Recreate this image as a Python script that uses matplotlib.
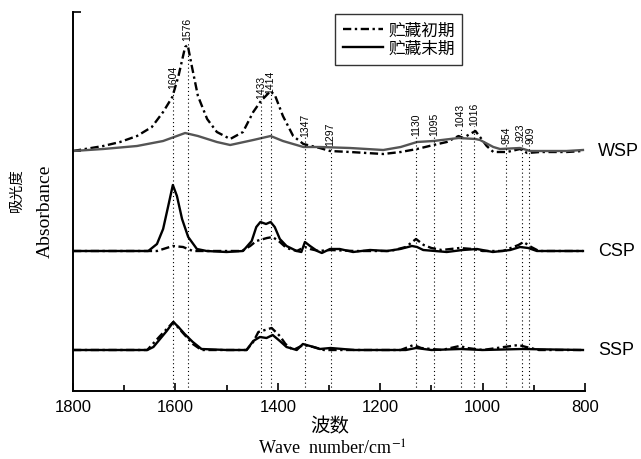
import matplotlib
matplotlib.use("Agg")
import matplotlib.pyplot as plt
from matplotlib.lines import Line2D
from matplotlib.ticker import MultipleLocator

plt.rcParams["mathtext.fontset"] = "stix"

# 谱峰位置 (cm-1) 与标注底部高度
peak_wn = [1604, 1576, 1433, 1414, 1347, 1297, 1130, 1095, 1043, 1016, 954, 923, 909]
peak_top = [3.02, 3.50, 2.92, 2.97, 2.54, 2.45, 2.55, 2.55, 2.64, 2.65, 2.47, 2.50, 2.47]
# 923 与 909 标注左右稍微错开一点
label_shift = {923: 3, 909: -3}

samples = ["WSP", "CSP", "SSP"]
offsets = [2.40, 1.40, 0.41]

# WSP
wsp_init_wn = [1800, 1741, 1708, 1675, 1646, 1624, 1606, 1594, 1581, 1576, 1568, 1556, 1538,
               1519, 1493, 1468, 1448, 1433, 1414, 1405, 1390, 1370, 1350, 1318, 1298, 1259,
               1194, 1160, 1128, 1096, 1070, 1047, 1038, 1028, 1014, 1005, 992, 979, 952,
               927, 913, 888, 836, 804]
wsp_init_ab = [0.00, 0.05, 0.09, 0.15, 0.24, 0.39, 0.54, 0.75, 1.04, 1.06, 0.85, 0.55, 0.32,
               0.19, 0.12, 0.19, 0.39, 0.50, 0.60, 0.55, 0.35, 0.15, 0.07, 0.03, 0.00, -0.01,
               -0.03, -0.01, 0.02, 0.06, 0.09, 0.15, 0.13, 0.16, 0.20, 0.14, 0.05, -0.01, -0.01,
               0.02, -0.02, -0.01, -0.01, 0.00]
wsp_end_wn = [1800, 1741, 1675, 1624, 1581, 1556, 1519, 1493, 1448, 1414, 1390, 1350, 1318,
              1259, 1194, 1160, 1128, 1096, 1047, 1014, 1005, 979, 966, 927, 907, 836, 804]
wsp_end_ab = [0.00, 0.02, 0.05, 0.10, 0.18, 0.15, 0.09, 0.06, 0.11, 0.15, 0.10, 0.04, 0.04,
              0.03, 0.01, 0.04, 0.09, 0.10, 0.13, 0.12, 0.11, 0.04, 0.02, 0.03, 0.00, 0.00, 0.01]

# CSP
csp_init_wn = [1800, 1660, 1636, 1605, 1585, 1566, 1500, 1470, 1454, 1442, 1421, 1410, 1396,
               1383, 1363, 1347, 1337, 1320, 1298, 1250, 1180, 1150, 1130, 1115, 1100, 1080,
               1045, 1020, 1000, 960, 930, 920, 905, 890, 804]
csp_init_ab = [0.00, 0.00, 0.00, 0.05, 0.04, 0.00, 0.00, 0.00, 0.05, 0.10, 0.13, 0.14, 0.09,
               0.03, 0.00, 0.04, 0.02, 0.00, 0.01, 0.00, 0.00, 0.04, 0.12, 0.06, 0.03, 0.01,
               0.03, 0.02, 0.00, 0.00, 0.06, 0.09, 0.04, 0.00, 0.00]
csp_end_wn = [1800, 1700, 1653, 1636, 1624, 1614, 1605, 1597, 1587, 1575, 1558, 1539, 1500,
              1468, 1451, 1442, 1434, 1423, 1414, 1406, 1396, 1383, 1363, 1354, 1347, 1337,
              1323, 1314, 1298, 1279, 1253, 1220, 1187, 1161, 1138, 1128, 1116, 1093, 1070,
              1039, 1011, 980, 946, 927, 911, 894, 862, 804]
csp_end_ab = [0.00, 0.00, 0.00, 0.07, 0.22, 0.45, 0.66, 0.55, 0.32, 0.14, 0.02, 0.00, -0.01,
              0.00, 0.10, 0.24, 0.29, 0.27, 0.29, 0.24, 0.12, 0.05, 0.00, -0.01, 0.09, 0.05,
              0.00, -0.02, 0.02, 0.02, -0.01, 0.01, 0.00, 0.02, 0.05, 0.04, 0.01, 0.00, -0.01,
              0.01, 0.02, -0.01, 0.01, 0.04, 0.03, 0.00, 0.00, 0.00]

# SSP
ssp_init_wn = [1800, 1655, 1630, 1604, 1587, 1566, 1549, 1461, 1448, 1438, 1412, 1396, 1385,
               1370, 1350, 1330, 1310, 1160, 1135, 1120, 1080, 1045, 1030, 1000, 930, 915,
               890, 804]
ssp_init_ab = [0.00, 0.00, 0.14, 0.28, 0.18, 0.06, 0.00, 0.00, 0.08, 0.18, 0.22, 0.14, 0.06,
               0.00, 0.05, 0.03, 0.00, 0.00, 0.05, 0.02, 0.00, 0.04, 0.02, 0.00, 0.05, 0.03,
               0.00, 0.00]
ssp_end_wn = [1800, 1655, 1643, 1630, 1617, 1604, 1594, 1582, 1566, 1549, 1500, 1461, 1448,
              1435, 1422, 1410, 1396, 1383, 1363, 1351, 1337, 1318, 1297, 1250, 1150, 1130,
              1100, 1043, 1000, 923, 804]
ssp_end_ab = [0.00, 0.00, 0.03, 0.11, 0.19, 0.28, 0.23, 0.16, 0.08, 0.01, 0.00, 0.00, 0.09,
              0.13, 0.12, 0.15, 0.09, 0.03, 0.00, 0.06, 0.04, 0.01, 0.02, 0.00, 0.00, 0.02,
              0.00, 0.01, 0.00, 0.01, 0.00]

init_data = [(wsp_init_wn, wsp_init_ab), (csp_init_wn, csp_init_ab), (ssp_init_wn, ssp_init_ab)]
end_data = [(wsp_end_wn, wsp_end_ab), (csp_end_wn, csp_end_ab), (ssp_end_wn, ssp_end_ab)]
end_colors = ["#555555", "black", "black"]

dashdot = (0, (3.5, 1.5, 1, 1.5))
cjk = ["Noto Sans CJK SC", "DejaVu Sans"]
serif = ["Liberation Serif", "Noto Sans CJK SC"]

fig = plt.figure(figsize=(6.41, 4.60), dpi=100)
ax = fig.add_axes([73 / 641, 1 - 392 / 460, 512 / 641, 379 / 460])

for (wn, ab), off in zip(init_data, offsets):
    ax.plot(wn, [a + off for a in ab], color="black", lw=1.7, linestyle=dashdot)
for (wn, ab), off, c in zip(end_data, offsets, end_colors):
    ax.plot(wn, [a + off for a in ab], color=c, lw=1.7, solid_joinstyle="round")

# 虚线与峰位标注
ax.vlines(peak_wn, 0, peak_top, colors="black", lw=0.8, linestyles=[(0, (1, 2.5))])
for w, t in zip(peak_wn, peak_top):
    ax.text(w + label_shift.get(w, 0), t + 0.01, str(w), rotation=90, ha="center",
            va="bottom", fontsize=7.5, family="Liberation Sans")

for s, off in zip(samples, offsets):
    ax.text(775, off, s, ha="left", va="center", fontsize=13,
            family="Liberation Sans", clip_on=False)

ax.set_xlim(1800, 800)
ax.set_ylim(0, 3.79)
ax.xaxis.set_major_locator(MultipleLocator(200))
ax.xaxis.set_minor_locator(MultipleLocator(100))
ax.set_yticks(offsets + [3.79])
ax.set_yticklabels([])
ax.tick_params(axis="x", which="major", direction="in", length=6, width=1.2,
               labelsize=12, pad=6)
ax.tick_params(axis="x", which="minor", direction="in", length=4, width=1.2)
ax.tick_params(axis="y", direction="in", length=6, width=1.2)
for lab in ax.get_xticklabels():
    lab.set_family("Liberation Sans")
ax.spines["top"].set_visible(False)
ax.spines["right"].set_visible(False)
ax.spines["left"].set_linewidth(1.4)
ax.spines["bottom"].set_linewidth(1.4)

handles = [Line2D([], [], color="black", lw=1.7, linestyle=dashdot),
           Line2D([], [], color="black", lw=1.7)]
leg = ax.legend(handles, ["贮藏初期", "贮藏末期"], loc="upper left",
                bbox_to_anchor=((335 - 73) / 512, (392 - 15) / 379),
                prop={"family": cjk, "size": 12}, frameon=True, fancybox=False,
                edgecolor="black", borderaxespad=0, handlelength=2.4,
                handletextpad=0.35, labelspacing=0.1, borderpad=0.45)
leg.get_frame().set_linewidth(1.0)

fig.text(330 / 641, 1 - 427 / 460, "波数", ha="center", va="center",
         fontsize=14, family=cjk)
fig.text(332 / 641, 1 - 449 / 460, "Wave  number/cm$^{-1}$", ha="center", va="center",
         fontsize=13, family=serif)
fig.text(17 / 641, 1 - 190 / 460, "吸光度", ha="center", va="center", rotation=90,
         fontsize=10.5, family=cjk)
fig.text(45 / 641, 1 - 211 / 460, "Absorbance", ha="center", va="center", rotation=90,
         fontsize=14, family=serif)

fig.savefig("out.png", dpi=100)
